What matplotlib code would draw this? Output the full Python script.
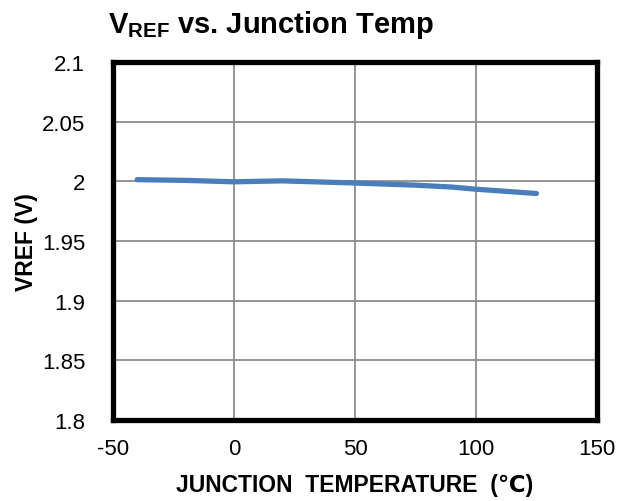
import matplotlib.pyplot as plt

plt.rcParams.update({
    "font.family": ["Liberation Sans", "DejaVu Sans"],
    "mathtext.fontset": "custom",
    "mathtext.rm": "Liberation Sans",
    "mathtext.bf": "Liberation Sans:bold",
    "axes.unicode_minus": False,
})

temps = [-40, -20, 0, 20, 50, 75, 90, 100, 125]
vref = [2.0014, 2.0008, 1.9996, 2.0004, 1.9986, 1.9968, 1.9952, 1.9934, 1.9898]

x_ticks = [-50, 0, 50, 100, 150]
y_ticks = [1.8, 1.85, 1.9, 1.95, 2.0, 2.05, 2.1]
y_labels = ["1.8", "1.85", "1.9", "1.95", "2", "2.05", "2.1"]

fig = plt.figure(figsize=(6.21, 5.02), dpi=100)
ax = fig.add_axes([113 / 621, 1 - 421 / 502, (597 - 113) / 621, (421 - 63) / 502])

ax.plot(temps, vref, color="#4a7ebb", linewidth=3.8, solid_capstyle="round")

ax.set_xlim(-50, 150)
ax.set_ylim(1.8, 2.1)
ax.set_xticks(x_ticks)
ax.set_yticks(y_ticks)
ax.set_yticklabels(y_labels)
ax.tick_params(axis="y", length=0, labelsize=16, pad=20)
ax.tick_params(axis="x", length=0, labelsize=16, pad=13)
ax.grid(True, color="#8c8c8c", linewidth=1.3)
for s in ax.spines.values():
    s.set_linewidth(3.8)
    s.set_color("black")
    s.set_capstyle("projecting")

ax.set_xlabel("JUNCTION  TEMPERATURE  (\u2103)", fontsize=16.5, fontweight="bold", labelpad=10)
ax.set_ylabel("VREF (V)", fontsize=16.5, fontweight="bold", labelpad=3)

fig.text(108 / 621, 1 - 33 / 502, r"$\mathbf{V_{REF}}$ vs. Junction Temp",
         fontsize=21, fontweight="bold", ha="left", va="baseline")

fig.savefig("out.png", dpi=100)
